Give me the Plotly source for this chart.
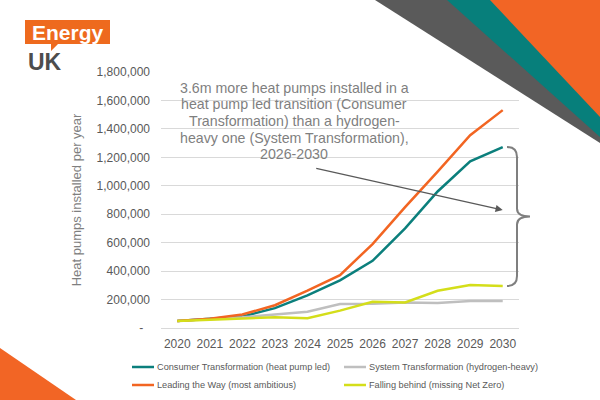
import plotly.graph_objects as go

years = [2020, 2021, 2022, 2023, 2024, 2025, 2026, 2027, 2028, 2029, 2030]
consumer = [50000, 65000, 80000, 140000, 230000, 335000, 472000, 700000, 960000, 1172000, 1272000]
system = [50000, 60000, 75000, 95000, 115000, 168000, 170000, 180000, 175000, 190000, 190000]
leading = [50000, 65000, 95000, 160000, 262000, 372000, 590000, 850000, 1100000, 1355000, 1532000]
falling = [50000, 60000, 65000, 75000, 68000, 122000, 185000, 180000, 262000, 303000, 295000]
series_names = ["Consumer Transformation (heat pump led)", "System Transformation (hydrogen-heavy)",
                "Leading the Way (most ambitious)", "Falling behind (missing Net Zero)"]
y_ticks = [0, 200000, 400000, 600000, 800000, 1000000, 1200000, 1400000, 1600000, 1800000]
y_ticktext = ["-\u00a0\u00a0"] + [f"{v:,}" for v in y_ticks[1:]]
note_lines = ["3.6m more heat pumps installed in a", "heat pump led transition (Consumer",
              "Transformation) than a hydrogen-", "heavy one (System Transformation),", "2026-2030"]

W, H = 600, 400
ML, MR, MT, MB = 161, 81, 72, 72
PW, PH = W - ML - MR, H - MT - MB
YMAX = 1800000


def px(x):
    return (x - ML) / PW


def py(y):
    return (H - MB - y) / PH


FONT = "Arial, Liberation Sans, sans-serif"
TEAL = "#0B7F7C"
ORANGE = "#F26522"
GREY = "#BFBFBF"
YELLOW = "#D4DE1A"
colors = [TEAL, GREY, ORANGE, YELLOW]
data = [consumer, system, leading, falling]

fig = go.Figure()
for name, vals, col in zip(series_names, data, colors):
    fig.add_trace(go.Scatter(x=years, y=vals, mode="lines", name=name,
                             line=dict(color=col, width=2.5), showlegend=False))

shapes = []
# Corner decorations
shapes.append(dict(type="path", xref="paper", yref="paper", layer="below",
                   path=f"M {px(375)} {py(0)} L {px(600)} {py(0)} L {px(600)} {py(143)} Z",
                   fillcolor="#5A5A5A", line=dict(width=0)))
shapes.append(dict(type="path", xref="paper", yref="paper", layer="below",
                   path=f"M {px(447)} {py(0)} L {px(600)} {py(0)} L {px(600)} {py(137)} Z",
                   fillcolor="#077F7B", line=dict(width=0)))
shapes.append(dict(type="path", xref="paper", yref="paper", layer="below",
                   path=f"M {px(490)} {py(0)} L {px(600)} {py(0)} L {px(600)} {py(117)} Z",
                   fillcolor="#F26525", line=dict(width=0)))
shapes.append(dict(type="path", xref="paper", yref="paper", layer="below",
                   path=f"M {px(0)} {py(348)} L {px(76)} {py(400)} L {px(0)} {py(400)} Z",
                   fillcolor="#F26525", line=dict(width=0)))
# Logo box with tail
shapes.append(dict(type="path", xref="paper", yref="paper",
                   path=(f"M {px(25)} {py(20)} L {px(110)} {py(20)} L {px(110)} {py(44)} "
                         f"L {px(58)} {py(44)} L {px(51)} {py(51)} L {px(51)} {py(44)} "
                         f"L {px(25)} {py(44)} Z"),
                   fillcolor="#EE6A1E", line=dict(width=0)))
# White box behind the note (covers gridlines)
shapes.append(dict(type="rect", xref="paper", yref="paper", layer="between",
                   x0=px(165), x1=px(427), y0=py(76), y1=py(163),
                   fillcolor="white", line=dict(width=0)))

# Brace between Consumer 2030 and Falling 2030
top = H - MB - consumer[-1] / YMAX * PH
bot = H - MB - falling[-1] / YMAX * PH
mid = (top + bot) / 2
x0, x1, x2 = 507, 517, 530
brace = (f"M {px(x0)} {py(top)} Q {px(x1)} {py(top)} {px(x1)} {py(top + 10)} "
         f"L {px(x1)} {py(mid - 8)} Q {px(x1)} {py(mid)} {px(x2)} {py(mid)} "
         f"Q {px(x1)} {py(mid)} {px(x1)} {py(mid + 8)} "
         f"L {px(x1)} {py(bot - 10)} Q {px(x1)} {py(bot)} {px(x0)} {py(bot)}")
shapes.append(dict(type="path", xref="paper", yref="paper", path=brace,
                   line=dict(color="#7F7F7F", width=2)))

annotations = [
    dict(xref="paper", yref="paper", x=px(67.5), y=py(32), text="<b>Energy</b>", showarrow=False,
         font=dict(family=FONT, size=21, color="white"), xanchor="center", yanchor="middle"),
    dict(xref="paper", yref="paper", x=px(26), y=py(62), text="<b>UK</b>", showarrow=False,
         font=dict(family=FONT, size=23, color="#4D4D4D"), xanchor="left", yanchor="middle"),
    dict(xref="x", yref="y", x=2030, y=(328 - 210) / PH * YMAX, ax=-188, ay=-42,
         showarrow=True, arrowhead=2, arrowsize=1.2, arrowwidth=1.2, arrowcolor="#595959", text=""),
]
for i, line in enumerate(note_lines):
    annotations.append(dict(xref="paper", yref="paper", x=px(294), y=py(87.5 + i * 16.7),
                            text=line, showarrow=False, xanchor="center", yanchor="middle",
                            font=dict(family=FONT, size=14.2, color="#7F7F7F")))

# Manual legend
leg_pos = [(132, 367), (344, 367), (132, 385), (344, 385)]
for (lx, ly), name, col in zip(leg_pos, series_names, colors):
    shapes.append(dict(type="line", xref="paper", yref="paper",
                       x0=px(lx), x1=px(lx + 22), y0=py(ly), y1=py(ly),
                       line=dict(color=col, width=2.5)))
    annotations.append(dict(xref="paper", yref="paper", x=px(lx + 23), y=py(ly), text=name,
                            showarrow=False, xanchor="left", yanchor="middle",
                            font=dict(family=FONT, size=9.2, color="#595959")))

fig.update_layout(
    width=W, height=H,
    margin=dict(l=ML, r=MR, t=MT, b=MB, autoexpand=False),
    paper_bgcolor="white", plot_bgcolor="white",
    font=dict(family=FONT, color="#595959"),
    shapes=shapes, annotations=annotations,
    showlegend=False,
    xaxis=dict(range=[2019.5, 2030.5], tickvals=years, ticktext=[str(y) for y in years],
               showgrid=False, zeroline=False, showline=True, linecolor="#D9D9D9", linewidth=1,
               tickfont=dict(family=FONT, size=12, color="#595959"), ticks="", automargin=False,
               ticklabelstandoff=5),
    yaxis=dict(range=[0, YMAX], tickvals=y_ticks, ticktext=y_ticktext,
               showgrid=True, gridcolor="#D9D9D9", gridwidth=1, zeroline=False, automargin=False,
               tickfont=dict(family=FONT, size=12, color="#595959"), ticks="",
               ticklabelstandoff=10,
               title=dict(text="Heat pumps installed per year", standoff=12,
                          font=dict(family=FONT, size=13, color="#7F7F7F"))),
)

fig.write_html("out.html", config={"displayModeBar": False},
               post_script="document.body.style.margin='0px';document.body.style.overflow='hidden';")
